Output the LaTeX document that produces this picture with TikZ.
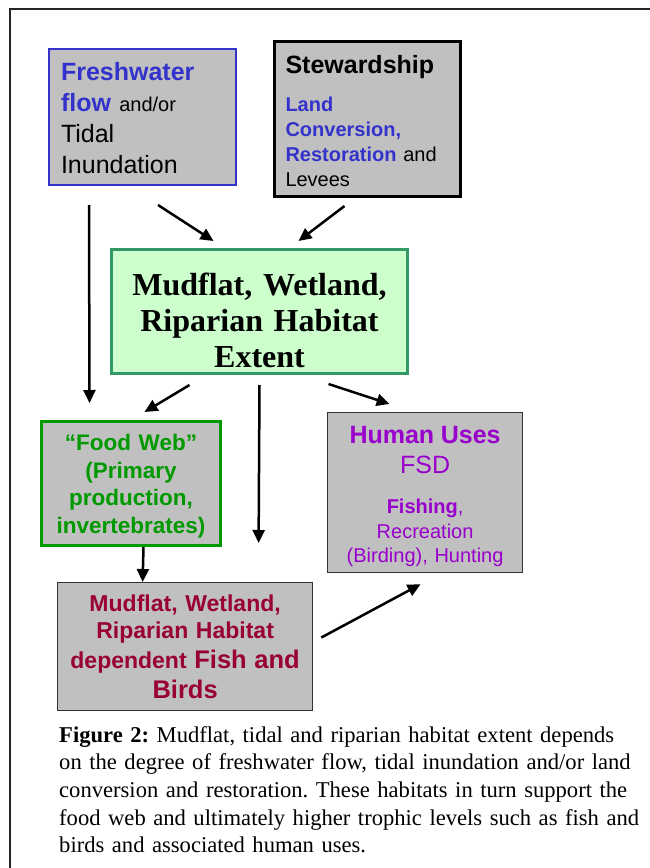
\documentclass[tikz,border=0pt]{standalone}
\usepackage{fontspec}
\setmainfont{Liberation Serif}
\setsansfont{Liberation Sans}
\usetikzlibrary{arrows.meta}
\usetikzlibrary{calc}
\definecolor{boxgray}{HTML}{C0C0C0}
\definecolor{flowblue}{HTML}{3333CC}
\definecolor{habitatfill}{HTML}{CCFFCC}
\definecolor{habitatline}{HTML}{339966}
\definecolor{webgreen}{HTML}{009900}
\definecolor{usepurple}{HTML}{9900CC}
\definecolor{fishred}{HTML}{990033}
\tikzstyle{box}=[draw, rectangle, fill=boxgray, inner xsep=0pt, inner ysep=0pt, anchor=north west, font=\sffamily]
\tikzstyle{thinbox}=[box, draw=black!80, line width=1.2pt, align=center]
\tikzstyle{link}=[line width=2.5pt, -{Triangle[length=13pt,width=12pt]}]

\begin{document}
\begin{tikzpicture}[x=1pt, y=-1pt]
              \useasboundingbox (0,0) rectangle (650,868);
              \draw[line width=2.5pt, black!85] (10,868) -- (10,9) -- (650,9);
              \node[box, draw=flowblue, line width=2pt, align=left, inner xsep=12pt, text width=163pt, text height=31pt, text depth=105pt, font={\sffamily\fontsize{25}{31}\selectfont}] (fresh) at (48,48)
                {{\color{flowblue}\bfseries Freshwater}\\ {\color{flowblue}\bfseries flow} {\fontsize{20}{31}\selectfont and/or}\\ Tidal\\ Inundation};
              \node[box, line width=3pt, align=left, inner xsep=11pt, text width=164pt, text height=32pt, text depth=123pt, font={\sffamily\fontsize{20}{25}\selectfont}] (stew) at (273,40)
                {{\fontsize{25}{25}\selectfont\bfseries Stewardship}\\[13pt] {\color{flowblue}\bfseries Land}\\ {\color{flowblue}\bfseries Conversion,}\\ {\color{flowblue}\bfseries Restoration} and\\ Levees};
              \node[box, fill=habitatfill, draw=habitatline, line width=3pt, align=center, text width=296pt, text height=46pt, text depth=78pt, font={\fontsize{32}{36}\selectfont\bfseries}] (extent) at (110,248)
                {Mudflat, Wetland,\\ Riparian Habitat\\ Extent};
              \node[box, draw=webgreen, text=webgreen, line width=3pt, align=center, text width=179pt, text height=29pt, text depth=95pt, font={\sffamily\fontsize{22.5}{27.5}\selectfont\bfseries}] (foodweb) at (40,420)
                {“Food Web”\\ (Primary\\ production,\\ invertebrates)};
              \node[thinbox, text=usepurple, text width=195pt, text height=31pt, text depth=129pt, font={\sffamily\fontsize{20}{24.5}\selectfont}] (human) at (327,412)
                {{\fontsize{25}{24.5}\selectfont\bfseries Human Uses}\\[5.5pt] {\fontsize{25}{24.5}\selectfont FSD}\\[15.5pt] {\bfseries Fishing},\\ Recreation\\ (Birding), Hunting};
              \node[thinbox, text=fishred, text width=255pt, text height=29pt, text depth=99pt, font={\sffamily\fontsize{23}{27}\selectfont\bfseries}] (depend) at (57,582)
                {Mudflat, Wetland,\\ Riparian Habitat\\[3pt] dependent {\fontsize{25.5}{27}\selectfont Fish and}\\[3pt] {\fontsize{25.5}{27}\selectfont Birds}};
              \node[anchor=base west, inner sep=0pt, align=left, text width=600pt, font={\fontsize{22.6}{27.7}\selectfont\frenchspacing}] (caption) at (59,742)
                {\textbf{Figure 2:} Mudflat, tidal and riparian habitat extent depends\\ on the degree of freshwater flow, tidal inundation and/or land\\ conversion and restoration. These habitats in turn support the\\ food web and ultimately higher trophic levels such as fish and\\ birds and associated human uses.};
              \draw[link] ($(fresh.south)+(-53.5,19)$) -- ($(foodweb.north)+(-41.5,-17)$);
              \draw[link] ($(fresh.south)+(15.5,19)$) -- ($(extent.north)+(-46,-7)$);
              \draw[link] ($(stew.south)+(-23,8)$) -- ($(extent.north)+(39,-7)$);
              \draw[link] ($(extent.south)+(-70,10)$) -- ($(foodweb.north)+(13.5,-8)$);
              \draw[link] ($(extent.south)+(0,10)$) -- ($(depend.north)+(73.5,-39)$);
              \draw[link] ($(extent.south)+(69,9)$) -- ($(human.north)+(-35.5,-8)$);
              \draw[link] ($(foodweb.south)+(12.5,0)$) -- ($(depend.north)+(-42.5,0)$);
              \draw[link] ($(depend.east)+(8,-9)$) -- ($(human.south)+(-4.5,11)$);
            \end{tikzpicture}
\end{document}
